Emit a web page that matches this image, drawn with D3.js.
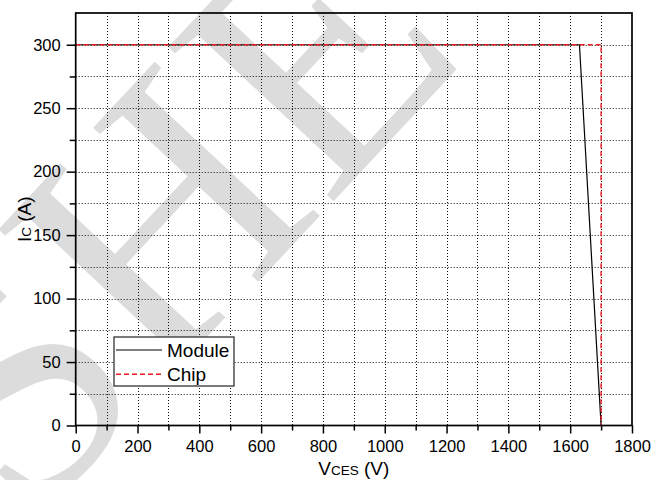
<!DOCTYPE html>
<html>
<head>
<meta charset="utf-8">
<script src="https://cdn.jsdelivr.net/npm/d3@7"></script>
<style>
  html, body { margin: 0; padding: 0; background: #fff; }
  svg { display: block; }
  text { font-family: "Liberation Sans", Arial, sans-serif; fill: #000; }
</style>
</head>
<body>
<svg id="chart" width="661" height="480"></svg>
<script>
// Safe operating area: collector current vs collector-emitter voltage
const moduleV = [0, 1630, 1700];
const moduleI = [300, 300, 0];
const chipV = [0, 1700, 1700];
const chipI = [300, 300, 0];

const xMajorTicks = [0, 200, 400, 600, 800, 1000, 1200, 1400, 1600, 1800];
const xMinorTicks = [100, 300, 500, 700, 900, 1100, 1300, 1500, 1700];
const yMajorTicks = [0, 50, 100, 150, 200, 250, 300];
const yMinorTicks = [25, 75, 125, 175, 225, 275];
const xGrid = [100, 200, 300, 400, 500, 600, 700, 800, 900, 1000, 1100, 1200, 1300, 1400, 1500, 1600, 1700];
const yGrid = [25, 50, 75, 100, 125, 150, 175, 200, 225, 250, 275, 300];

const seriesNames = ["Module", "Chip"];

const svg = d3.select("#chart");
const plotL = 75.7, plotR = 632, plotT = 13, plotB = 425.5;

const x = d3.scaleLinear().domain([0, 1800]).range([plotL, plotR]);
const y = d3.scaleLinear().domain([0, 325]).range([plotB, plotT]);

// background watermark lettering
svg.append("text")
  .attr("transform", "translate(165,215) rotate(-47)")
  .attr("text-anchor", "middle")
  .attr("dy", "0.33em")
  .style("font-family", "'Liberation Serif', 'DejaVu Serif', serif")
  .style("font-size", "345px")
  .style("fill", "#dcdcdc")
  .text("SHE");

// dotted grid
const grid = svg.append("g").attr("stroke", "#111").attr("stroke-width", 1)
  .attr("stroke-dasharray", "1,2").attr("fill", "none");
grid.selectAll("line.v").data(xGrid).join("line").attr("class", "v")
  .attr("x1", d => Math.round(x(d)) + 0.5).attr("x2", d => Math.round(x(d)) + 0.5)
  .attr("y1", plotT).attr("y2", plotB);
grid.selectAll("line.h").data(yGrid).join("line").attr("class", "h")
  .attr("y1", d => Math.round(y(d)) + 0.5).attr("y2", d => Math.round(y(d)) + 0.5)
  .attr("x1", plotL).attr("x2", plotR);

// curves
const line = d3.line().x(d => x(d[0])).y(d => y(d[1]));
const moduleData = d3.zip(moduleV, moduleI);
const chipData = d3.zip(chipV, chipI);

svg.append("path").datum(moduleData).attr("d", line)
  .attr("fill", "none").attr("stroke", "#000").attr("stroke-width", 1.2);
svg.append("path").datum(chipData).attr("d", line)
  .attr("fill", "none").attr("stroke", "#ee1c25").attr("stroke-width", 1.4)
  .attr("stroke-dasharray", "5,3");

// axes
const xAxis = svg.append("g").attr("transform", `translate(0,${plotB})`)
  .call(d3.axisBottom(x).tickValues(xMajorTicks).tickSize(8).tickPadding(7).tickFormat(d3.format("d")));
const xAxisMinor = svg.append("g").attr("transform", `translate(0,${plotB})`)
  .call(d3.axisBottom(x).tickValues(xMinorTicks).tickSize(5).tickFormat(""));
const yAxis = svg.append("g").attr("transform", `translate(${plotL},0)`)
  .call(d3.axisLeft(y).tickValues(yMajorTicks).tickSize(9).tickPadding(6).tickFormat(d3.format("d")));
const yAxisMinor = svg.append("g").attr("transform", `translate(${plotL},0)`)
  .call(d3.axisLeft(y).tickValues(yMinorTicks).tickSize(6).tickFormat(""));

[xAxis, xAxisMinor, yAxis, yAxisMinor].forEach(g => {
  g.select(".domain").remove();
  g.selectAll(".tick line").attr("stroke", "#000").attr("stroke-width", 1.5);
  g.selectAll(".tick text").style("font-size", "16.5px").style("font-family", "'Liberation Sans', Arial, sans-serif").attr("fill", "#000");
});

// plot frame
svg.append("rect")
  .attr("x", plotL).attr("y", plotT)
  .attr("width", plotR - plotL).attr("height", plotB - plotT)
  .attr("fill", "none").attr("stroke", "#000").attr("stroke-width", 1.7);

// legend
const lg = svg.append("g");
lg.append("rect").attr("x", 114).attr("y", 337).attr("width", 120).attr("height", 49)
  .attr("fill", "#fff").attr("stroke", "#333").attr("stroke-width", 1.3);
const legendStyles = [
  { stroke: "#000", dash: null, width: 1.2 },
  { stroke: "#ee1c25", dash: "5,3", width: 1.4 }
];
seriesNames.forEach((name, i) => {
  const cy = 350 + i * 24.3;
  lg.append("line").attr("x1", 116).attr("x2", 162).attr("y1", cy).attr("y2", cy)
    .attr("stroke", legendStyles[i].stroke).attr("stroke-width", legendStyles[i].width)
    .attr("stroke-dasharray", legendStyles[i].dash);
  lg.append("text").attr("x", 167).attr("y", cy + 6.8)
    .style("font-size", "19px").text(name);
});

// axis titles
const xt = svg.append("text").attr("x", (plotL + plotR) / 2).attr("y", 475)
  .attr("text-anchor", "middle").style("font-size", "19px");
xt.append("tspan").text("V");
xt.append("tspan").style("font-size", "13.5px").text("CES");
xt.append("tspan").text(" (V)");

const yt = svg.append("text")
  .attr("transform", `translate(31,${(plotT + plotB) / 2}) rotate(-90)`)
  .attr("text-anchor", "middle").style("font-size", "19px");
yt.append("tspan").text("I");
yt.append("tspan").style("font-size", "13.5px").text("C");
yt.append("tspan").text(" (A)");
</script>
</body>
</html>
